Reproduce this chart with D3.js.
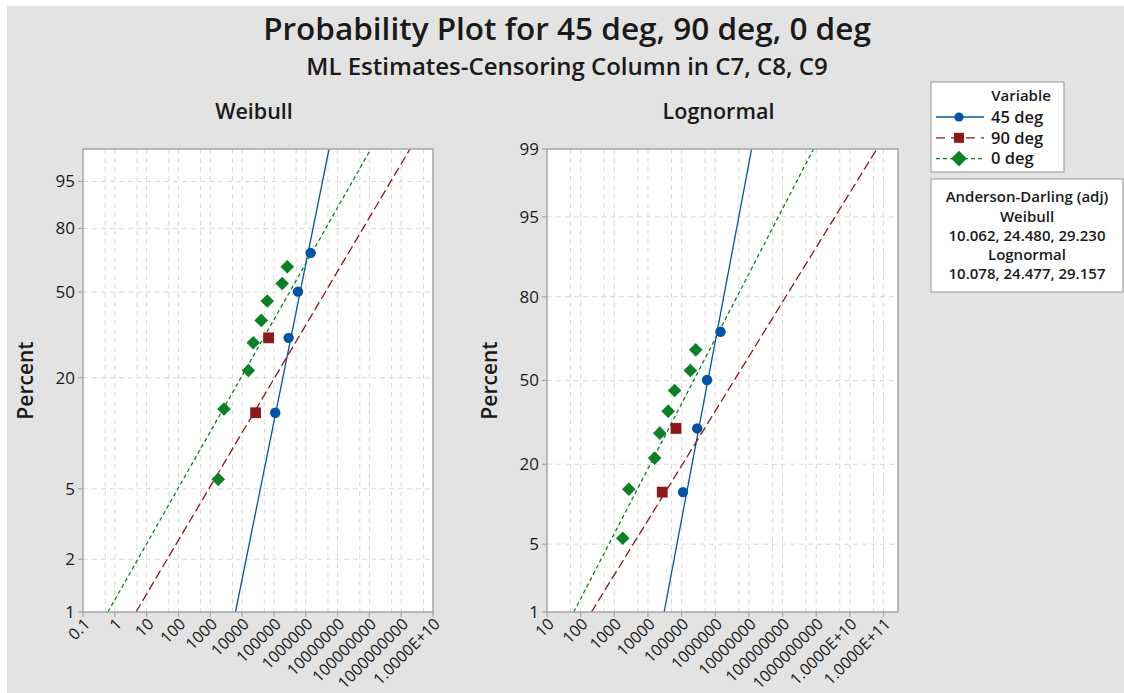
<!DOCTYPE html>
<html>
<head>
<meta charset="utf-8">
<script src="https://cdn.jsdelivr.net/npm/d3@7"></script>
<style>
  html, body { margin: 0; padding: 0; background: #fff; }
  svg { display: block; }
  text { font-family: "Open Sans", "Noto Sans", sans-serif; fill: #1a1a1a; }
</style>
</head>
<body>
<svg id="chart" width="1124" height="693"></svg>
<script>
// ---- data -------------------------------------------------------------
const seriesNames = ["45 deg", "90 deg", "0 deg"];

// failure times and plotting positions (percent)
const times45 = [110000, 290000, 570000, 1430000];
const pct45   = [13.1, 31.5, 50.2, 68.8];
const times90 = [26600, 68000];
const pct90   = [13.1, 31.5];
const times0  = [1780, 2700, 15800, 22400, 40000, 62000, 182000, 263000];
const pct0    = [5.65, 13.71, 21.77, 29.84, 37.90, 45.97, 54.03, 62.10];

// ML fit parameters
const weibullShape = [0.905, 0.309, 0.322];
const weibullScale = [1.0e6, 1.35e7, 9.7e5];
const lognormLoc   = [13.31, 15.105, 12.333];
const lognormScale = [1.287, 4.198, 3.525];

// axis ticks
const weibullXTicks  = [1e-1, 1, 1e1, 1e2, 1e3, 1e4, 1e5, 1e6, 1e7, 1e8, 1e9, 1e10];
const weibullXLabels = ["0.1", "1", "10", "100", "1000", "10000", "100000", "1000000",
                        "10000000", "100000000", "1000000000", "1.0000E+10"];
const lognormXTicks  = [1e1, 1e2, 1e3, 1e4, 1e5, 1e6, 1e7, 1e8, 1e9, 1e10, 1e11];
const lognormXLabels = ["10", "100", "1000", "10000", "100000", "1000000", "10000000",
                        "100000000", "1000000000", "1.0000E+10", "1.0000E+11"];
const weibullYTicks = [1, 2, 5, 20, 50, 80, 95];
const weibullYGrid  = [2, 5, 20, 50, 80, 95];
const lognormYTicks = [1, 5, 20, 50, 80, 95, 99];
const lognormYGrid  = [5, 20, 50, 80, 95];

const adWeibull = [10.062, 24.480, 29.230];
const adLognorm = [10.078, 24.477, 29.157];

// ---- helpers ----------------------------------------------------------
// inverse standard normal CDF (Acklam)
function normInv(p) {
  const a = [-3.969683028665376e+01, 2.209460984245205e+02, -2.759285104469687e+02,
             1.383577518672690e+02, -3.066479806614716e+01, 2.506628277459239e+00];
  const b = [-5.447609879822406e+01, 1.615858368580409e+02, -1.556989798598866e+02,
             6.680131188771972e+01, -1.328068155288572e+01];
  const c = [-7.784894002430293e-03, -3.223964580411365e-01, -2.400758277161838e+00,
             -2.549732539343734e+00, 4.374664141464968e+00, 2.938163982698783e+00];
  const d = [7.784695709041462e-03, 3.224671290700398e-01, 2.445134137142996e+00,
             3.754408661907416e+00];
  const pl = 0.02425;
  let q, r;
  if (p < pl) {
    q = Math.sqrt(-2 * Math.log(p));
    return (((((c[0]*q+c[1])*q+c[2])*q+c[3])*q+c[4])*q+c[5]) /
           ((((d[0]*q+d[1])*q+d[2])*q+d[3])*q+1);
  } else if (p <= 1 - pl) {
    q = p - 0.5; r = q*q;
    return (((((a[0]*r+a[1])*r+a[2])*r+a[3])*r+a[4])*r+a[5])*q /
           (((((b[0]*r+b[1])*r+b[2])*r+b[3])*r+b[4])*r+1);
  } else {
    q = Math.sqrt(-2 * Math.log(1 - p));
    return -(((((c[0]*q+c[1])*q+c[2])*q+c[3])*q+c[4])*q+c[5]) /
            ((((d[0]*q+d[1])*q+d[2])*q+d[3])*q+1);
  }
}
const weibullT = pct => Math.log(-Math.log(1 - pct / 100));
const lognormT = pct => normInv(pct / 100);

const colors = ["#0054a6", "#8e1717", "#0b8126"];
const dashes = [null, "9,4", "4,3"];

const svg = d3.select("#chart");

// page background with thin white margin
svg.append("rect").attr("x", 7).attr("y", 6).attr("width", 1117).attr("height", 687)
  .attr("fill", "#e3e3e3");

// titles
svg.append("text").attr("x", 567).attr("y", 40).attr("text-anchor", "middle")
  .attr("font-size", 31.5).attr("font-weight", 600)
  .text("Probability Plot for 45 deg, 90 deg, 0 deg");
svg.append("text").attr("x", 567).attr("y", 75).attr("text-anchor", "middle")
  .attr("font-size", 24).attr("font-weight", 600)
  .text("ML Estimates-Censoring Column in C7, C8, C9");

const points = [
  { t: times45, p: pct45 },
  { t: times90, p: pct90 },
  { t: times0,  p: pct0 }
];

// marker shapes: circle, square, diamond (square turned 45 degrees)
function markerPath(i, r) {
  if (i === 0) return d3.symbol().type(d3.symbolCircle).size(Math.PI * r * r)();
  if (i === 1) return `M${-r},${-r}H${r}V${r}H${-r}Z`;
  return `M0,${-r}L${r},0L0,${r}L${-r},0Z`;
}
const markerR = [5.2, 5.4, 6.8];
const legendMarkerR = [4.6, 5, 7.8];

function drawPanel(cfg) {
  const { x0, x1, y0, y1, xDomain, xTicks, xLabels, yTicks, yGrid, tf, title, quantile, params } = cfg;
  const g = svg.append("g");
  const x = d3.scaleLog().domain(xDomain).range([x0, x1]);
  const y = d3.scaleLinear().domain([tf(1), tf(99)]).range([y1, y0]);

  g.append("rect").attr("x", x0).attr("y", y0).attr("width", x1 - x0).attr("height", y1 - y0)
    .attr("fill", "#fff");

  // vertical grid: each decade plus the 5x line below it
  const vGrid = [];
  xTicks.forEach(v => {
    [v / 2, v].forEach(u => {
      const px = x(u);
      if (px > x0 + 2 && px < x1 - 2) vGrid.push(u);
    });
  });
  g.selectAll(".vg").data(vGrid).join("line")
    .attr("x1", d => x(d)).attr("x2", d => x(d)).attr("y1", y0).attr("y2", y1)
    .attr("stroke", "#d9d9d9").attr("stroke-width", 1).attr("stroke-dasharray", "5,4");
  g.selectAll(".hg").data(yGrid).join("line")
    .attr("x1", x0).attr("x2", x1).attr("y1", d => y(tf(d))).attr("y2", d => y(tf(d)))
    .attr("stroke", "#d9d9d9").attr("stroke-width", 1).attr("stroke-dasharray", "5,4");

  // fitted lines
  const clipId = "clip" + title;
  svg.append("clipPath").attr("id", clipId).append("rect")
    .attr("x", x0).attr("y", y0).attr("width", x1 - x0).attr("height", y1 - y0);
  params.forEach((pr, i) => {
    const pts = [1, 99].map(p => [x(quantile(pr, p)), y(tf(p))]);
    g.append("path").attr("d", d3.line()(pts)).attr("clip-path", `url(#${clipId})`)
      .attr("fill", "none").attr("stroke", colors[i]).attr("stroke-width", 1.3)
      .attr("stroke-dasharray", dashes[i]);
  });

  // plotted points (draw later series first so 45 deg sits on top)
  [2, 1, 0].forEach(i => {
    const s = points[i];
    g.selectAll(".pt" + i).data(s.t.map((t, k) => [t, s.p[k]])).join("path")
      .attr("transform", d => `translate(${x(d[0])},${y(tf(d[1]))})`)
      .attr("d", markerPath(i, markerR[i]))
      .attr("fill", colors[i]);
  });

  // frame
  g.append("rect").attr("x", x0).attr("y", y0).attr("width", x1 - x0).attr("height", y1 - y0)
    .attr("fill", "none").attr("stroke", "#a6a6a6").attr("stroke-width", 1.5);

  // x axis ticks and labels
  g.selectAll(".xt").data(xTicks).join("line")
    .attr("x1", d => x(d)).attr("x2", d => x(d)).attr("y1", y1).attr("y2", y1 + 5)
    .attr("stroke", "#a6a6a6").attr("stroke-width", 1.2);
  g.selectAll(".xl").data(xTicks).join("text")
    .attr("transform", d => `translate(${x(d) + 4},${y1 + 9}) rotate(-45)`)
    .attr("text-anchor", "end").attr("dy", "0.35em")
    .attr("font-size", 16).attr("font-weight", 500)
    .text((d, i) => xLabels[i]);

  // y axis ticks and labels
  g.selectAll(".yt").data(yTicks).join("line")
    .attr("x1", x0 - 5).attr("x2", x0).attr("y1", d => y(tf(d))).attr("y2", d => y(tf(d)))
    .attr("stroke", "#a6a6a6").attr("stroke-width", 1.2);
  g.selectAll(".yl").data(yTicks).join("text")
    .attr("x", x0 - 8).attr("y", d => y(tf(d))).attr("dy", "0.35em")
    .attr("text-anchor", "end").attr("font-size", 17).attr("font-weight", 500)
    .text(d => d);

  // panel title and axis title
  g.append("text").attr("x", (x0 + x1) / 2 - 4).attr("y", 119).attr("text-anchor", "middle")
    .attr("font-size", 21.5).attr("font-weight", 600).text(title);
  g.append("text").attr("transform", `translate(${x0 - 50},${(y0 + y1) / 2}) rotate(-90)`)
    .attr("text-anchor", "middle").attr("font-size", 21).attr("font-weight", 600)
    .text("Percent");
}

drawPanel({
  x0: 83, x1: 433, y0: 149, y1: 612,
  xDomain: [1e-1, 1e10], xTicks: weibullXTicks, xLabels: weibullXLabels,
  yTicks: weibullYTicks, yGrid: weibullYGrid, tf: weibullT, title: "Weibull",
  params: weibullShape.map((b, i) => ({ shape: b, scale: weibullScale[i] })),
  quantile: (pr, p) => pr.scale * Math.pow(-Math.log(1 - p / 100), 1 / pr.shape)
});

drawPanel({
  x0: 547, x1: 898, y0: 149, y1: 612,
  xDomain: [1e1, Math.pow(10, 11.43)], xTicks: lognormXTicks, xLabels: lognormXLabels,
  yTicks: lognormYTicks, yGrid: lognormYGrid, tf: lognormT, title: "Lognormal",
  params: lognormLoc.map((m, i) => ({ loc: m, scale: lognormScale[i] })),
  quantile: (pr, p) => Math.exp(pr.loc + pr.scale * normInv(p / 100))
});

// ---- legend -----------------------------------------------------------
const lg = svg.append("g");
lg.append("rect").attr("x", 931).attr("y", 82).attr("width", 133).attr("height", 90)
  .attr("fill", "#fff").attr("stroke", "#a6a6a6").attr("stroke-width", 1.2);
lg.append("text").attr("x", 1021).attr("y", 96).attr("dy", "0.35em").attr("text-anchor", "middle")
  .attr("font-size", 15).attr("font-weight", 600).text("Variable");
seriesNames.forEach((name, i) => {
  const cy = 117 + i * 20.8;
  lg.append("line").attr("x1", 936).attr("x2", 984).attr("y1", cy).attr("y2", cy)
    .attr("stroke", colors[i]).attr("stroke-width", 1.3)
    .attr("stroke-dasharray", i === 0 ? null : (i === 1 ? "9,6" : "4,3"));
  lg.append("path").attr("transform", `translate(959,${cy})`)
    .attr("d", markerPath(i, legendMarkerR[i])).attr("fill", colors[i]);
  lg.append("text").attr("x", 991).attr("y", cy).attr("dy", "0.35em")
    .attr("font-size", 16.5).attr("font-weight", 600).text(name);
});

const ad = svg.append("g");
ad.append("rect").attr("x", 931).attr("y", 179).attr("width", 192).attr("height", 113)
  .attr("fill", "#fff").attr("stroke", "#a6a6a6").attr("stroke-width", 1.2);
const fmt = d3.format(".3f");
const adLines = [
  "Anderson-Darling (adj)",
  "Weibull",
  adWeibull.map(fmt).join(", "),
  "Lognormal",
  adLognorm.map(fmt).join(", ")
];
ad.selectAll("text").data(adLines).join("text")
  .attr("x", 1027).attr("y", (d, i) => 197 + i * 19.3).attr("dy", "0.35em")
  .attr("text-anchor", "middle").attr("font-size", 15).attr("font-weight", 600)
  .text(d => d);
</script>
</body>
</html>
